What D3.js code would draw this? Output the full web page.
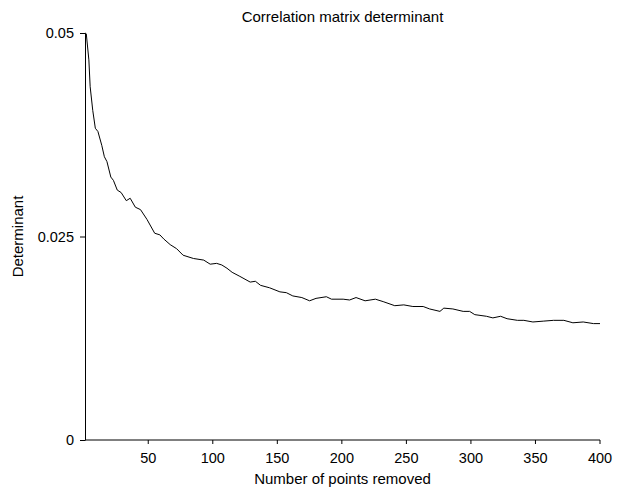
<!DOCTYPE html>
<html>
<head>
<meta charset="utf-8">
<script src="https://cdn.jsdelivr.net/npm/d3@7"></script>
<style>
  body { margin: 0; background: #fff; }
  svg text { font-family: "Liberation Sans", Arial, sans-serif; fill: #000; }
</style>
</head>
<body>
<div id="chart"></div>
<script>
// values
const pointsRemoved = [1, 2, 4, 5, 7, 9, 11, 14, 16, 18, 21, 23, 26, 29, 33, 36, 40, 44, 49,
  55, 59, 62, 67, 72, 77, 85, 93, 98, 103, 107, 111, 115, 121, 129, 133, 137, 144, 152,
  157, 162, 169, 175, 180, 188, 192, 201, 206, 211, 218, 226, 232, 241, 248, 255, 263,
  268, 276, 279, 286, 294, 299, 303, 312, 317, 323, 328, 336, 341, 348, 356, 364, 372,
  379, 387, 395, 400];
const determinant = [0.0500, 0.0499, 0.0467, 0.0434, 0.0405, 0.0383, 0.0379, 0.0362, 0.0348,
  0.0342, 0.0323, 0.0319, 0.0307, 0.0304, 0.0294, 0.0297, 0.0286, 0.0283, 0.0271,
  0.0254, 0.0252, 0.0247, 0.0240, 0.0235, 0.0227, 0.0223, 0.0221, 0.0216, 0.0217, 0.0215,
  0.0211, 0.0206, 0.0201, 0.0194, 0.0195, 0.0190, 0.0187, 0.0182, 0.0181, 0.0177, 0.0175,
  0.0171, 0.0174, 0.0176, 0.0173, 0.0173, 0.0172, 0.0175, 0.0171, 0.0173, 0.0170, 0.0165,
  0.0166, 0.0164, 0.0164, 0.0161, 0.0158, 0.0162, 0.0161, 0.0158, 0.0158, 0.0154, 0.0152,
  0.0150, 0.0152, 0.0149, 0.0147, 0.0147, 0.0145, 0.0146, 0.0147, 0.0147, 0.0144, 0.0145,
  0.0143, 0.0143];
const xTicks = [50, 100, 150, 200, 250, 300, 350, 400];
const yTicks = [0, 0.025, 0.05];
const yTickLabels = ["0", "0.025", "0.05"];

const data = pointsRemoved.map((p, i) => ({ p: p, v: determinant[i] }));

const width = 617, height = 494;
const margin = { top: 33, right: 17, bottom: 54, left: 85 };

const svg = d3.select("#chart").append("svg")
    .attr("width", width)
    .attr("height", height);

const x = d3.scaleLinear()
    .domain([1, 400])
    .range([margin.left, width - margin.right]);

const y = d3.scaleLinear()
    .domain([0, 0.05])
    .range([height - margin.bottom, margin.top]);

// x axis (soft grey line like the original)
const gx = svg.append("g")
    .attr("transform", "translate(0," + (height - margin.bottom) + ")")
    .call(d3.axisBottom(x).tickValues(xTicks).tickSize(4).tickSizeOuter(0).tickPadding(9).offset(0));
gx.select(".domain").attr("stroke", "#000");
gx.selectAll("text").style("font-size", "14.5px");

// y axis
const gy = svg.append("g")
    .attr("transform", "translate(" + margin.left + ",0)")
    .call(d3.axisLeft(y).tickValues(yTicks).tickFormat((d, i) => yTickLabels[i])
      .tickSize(5).tickSizeOuter(0).tickPadding(6));
gy.selectAll("text").style("font-size", "14.5px");

const line = d3.line()
    .x(d => x(d.p))
    .y(d => y(d.v));

svg.append("path")
    .datum(data)
    .attr("fill", "none")
    .attr("stroke", "#000")
    .attr("stroke-width", 1)
    .attr("d", line);

// title
svg.append("text")
    .attr("x", (margin.left + width - margin.right) / 2)
    .attr("y", 22)
    .style("text-anchor", "middle")
    .style("font-size", "15px")
    .text("Correlation matrix determinant");

// X axis label
svg.append("text")
    .attr("x", (margin.left + width - margin.right) / 2)
    .attr("y", 484)
    .style("text-anchor", "middle")
    .style("font-size", "15px")
    .text("Number of points removed");

// Y axis label
svg.append("text")
    .attr("transform", "rotate(-90)")
    .attr("x", -(margin.top + height - margin.bottom) / 2)
    .attr("y", 23)
    .style("text-anchor", "middle")
    .style("font-size", "15px")
    .text("Determinant");
</script>
</body>
</html>
